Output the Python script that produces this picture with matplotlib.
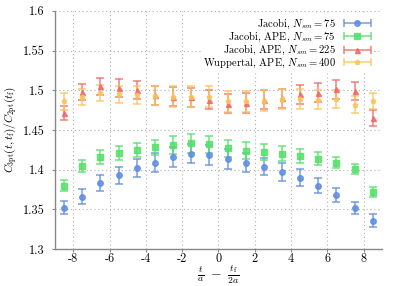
import matplotlib
matplotlib.use("Agg")
import numpy as np
import matplotlib.pyplot as plt
from matplotlib.container import ErrorbarContainer
from matplotlib.legend_handler import HandlerErrorbar

x = [-8.5, -7.5, -6.5, -5.5, -4.5, -3.5, -2.5, -1.5, -0.5,
     0.5, 1.5, 2.5, 3.5, 4.5, 5.5, 6.5, 7.5, 8.5]

jac75 = [1.352, 1.366, 1.383, 1.393, 1.402, 1.409, 1.416, 1.420, 1.418,
         1.413, 1.409, 1.404, 1.397, 1.390, 1.380, 1.368, 1.352, 1.336]
jac75_err = [0.0084, 0.0095, 0.0103, 0.011, 0.0113, 0.012, 0.012, 0.012, 0.0125,
             0.0125, 0.012, 0.011, 0.011, 0.0105, 0.0097, 0.0084, 0.0078, 0.0078]

ape75 = [1.380, 1.405, 1.416, 1.421, 1.425, 1.428, 1.431, 1.433, 1.432,
         1.427, 1.424, 1.422, 1.420, 1.417, 1.414, 1.409, 1.401, 1.372]
ape75_err = [0.0069, 0.0078, 0.0084, 0.0088, 0.009, 0.010, 0.011, 0.0115, 0.011,
             0.011, 0.0105, 0.010, 0.0095, 0.009, 0.0084, 0.0074, 0.0063, 0.0059]

ape225 = [1.471, 1.498, 1.505, 1.503, 1.500, 1.494, 1.492, 1.491, 1.488,
          1.483, 1.484, 1.488, 1.490, 1.495, 1.497, 1.501, 1.499, 1.465]
ape225_err = [0.009, 0.010, 0.0107, 0.011, 0.0115, 0.012, 0.012, 0.012, 0.012,
              0.012, 0.012, 0.012, 0.012, 0.012, 0.012, 0.012, 0.011, 0.010]

wup400 = [1.486, 1.491, 1.497, 1.495, 1.494, 1.493, 1.492, 1.492, 1.492,
          1.486, 1.486, 1.487, 1.489, 1.489, 1.488, 1.489, 1.482, 1.486]
wup400_err = [0.011, 0.010, 0.010, 0.011, 0.011, 0.012, 0.013, 0.013, 0.013,
              0.013, 0.013, 0.013, 0.012, 0.012, 0.012, 0.011, 0.011, 0.010]

labels = [r"Jacobi, $N_{sm} = 75$",
          r"Jacobi, APE, $N_{sm} = 75$",
          r"Jacobi, APE, $N_{sm} = 225$",
          r"Wuppertal, APE, $N_{sm} = 400$"]
colors = ["#5f8de0", "#55e06a", "#f06868", "#f8c55c"]
markers = ["o", "s", "^", "p"]
msizes = [4, 4.2, 3.6, 3.4]
series = [(jac75, jac75_err), (ape75, ape75_err), (ape225, ape225_err), (wup400, wup400_err)]

xticks = [-8, -6, -4, -2, 0, 2, 4, 6, 8]
yticks = [1.3, 1.35, 1.4, 1.45, 1.5, 1.55, 1.6]
yticklabels = ["1.3", "1.35", "1.4", "1.45", "1.5", "1.55", "1.6"]

plt.rcParams["mathtext.fontset"] = "cm"
plt.rcParams["font.family"] = ["cmr10", "DejaVu Serif"]
plt.rcParams["axes.unicode_minus"] = False
plt.rcParams["axes.formatter.use_mathtext"] = True

fig = plt.figure(figsize=(3.99, 2.86), dpi=100)
ax = fig.add_axes([0.138, 0.129, 0.819, 0.833])

for (vals, errs), c, m, ms in zip(series, colors, markers, msizes):
    ax.errorbar(x, vals, yerr=errs, fmt=m, color=c, ms=ms, mec=c, mfc=c,
                ecolor=c, elinewidth=1.1, capsize=3, capthick=1.1, alpha=0.85,
                zorder=3)

# legend handles: horizontal error bars like the reference key
handles = []
for c, m, ms, lab in zip(colors, markers, msizes, labels):
    h = ax.errorbar([np.nan], [np.nan], xerr=[1.0], fmt=m, color=c, ms=ms, ecolor=c,
                    elinewidth=1.1, capsize=3, capthick=1.1, alpha=0.85, label=lab)
    handles.append(h)

leg = ax.legend(handles=handles, loc="upper right", bbox_to_anchor=(0.972, 0.985),
                frameon=True, fancybox=False, edgecolor="none", facecolor="white",
                framealpha=1.0, fontsize=7.6, markerfirst=False,
                handlelength=2.5, handletextpad=0.8, labelspacing=-0.1,
                borderpad=0.2, borderaxespad=0.0,
                handler_map={ErrorbarContainer: HandlerErrorbar(xerr_size=1.3)})
for t in leg.get_texts():
    t.set_ha("right")
leg.set_zorder(5)

ax.set_xlim(-9, 9)
ax.set_ylim(1.3, 1.6)
ax.set_xticks(xticks)
ax.set_xticklabels([str(v) for v in xticks])
ax.set_yticks(yticks)
ax.set_yticklabels(yticklabels)
ax.grid(True, linestyle=(0, (1, 2.5)), color="#b0b0b0", linewidth=0.8)
ax.set_axisbelow(True)

for s in ["top", "right"]:
    ax.spines[s].set_visible(False)
for s in ["left", "bottom"]:
    ax.spines[s].set_color("#888888")
    ax.spines[s].set_linewidth(1.0)
ax.tick_params(direction="out", length=2.5, color="#888888", labelsize=8.8)
ax.tick_params(axis="x", pad=0.5)
ax.tick_params(axis="y", pad=5)

ax.set_ylabel(r"$C_{\rm 3pt}(t,t_{\rm f})/C_{\rm 2pt}(t_{\rm f})$", fontsize=8, labelpad=3)
fig.text(218.5 / 399, 0.0, r"$\frac{t}{a}\ -\ \frac{t_{\rm f}}{2a}$", fontsize=10,
         ha="center", va="bottom")

fig.savefig("out.png", dpi=100)
